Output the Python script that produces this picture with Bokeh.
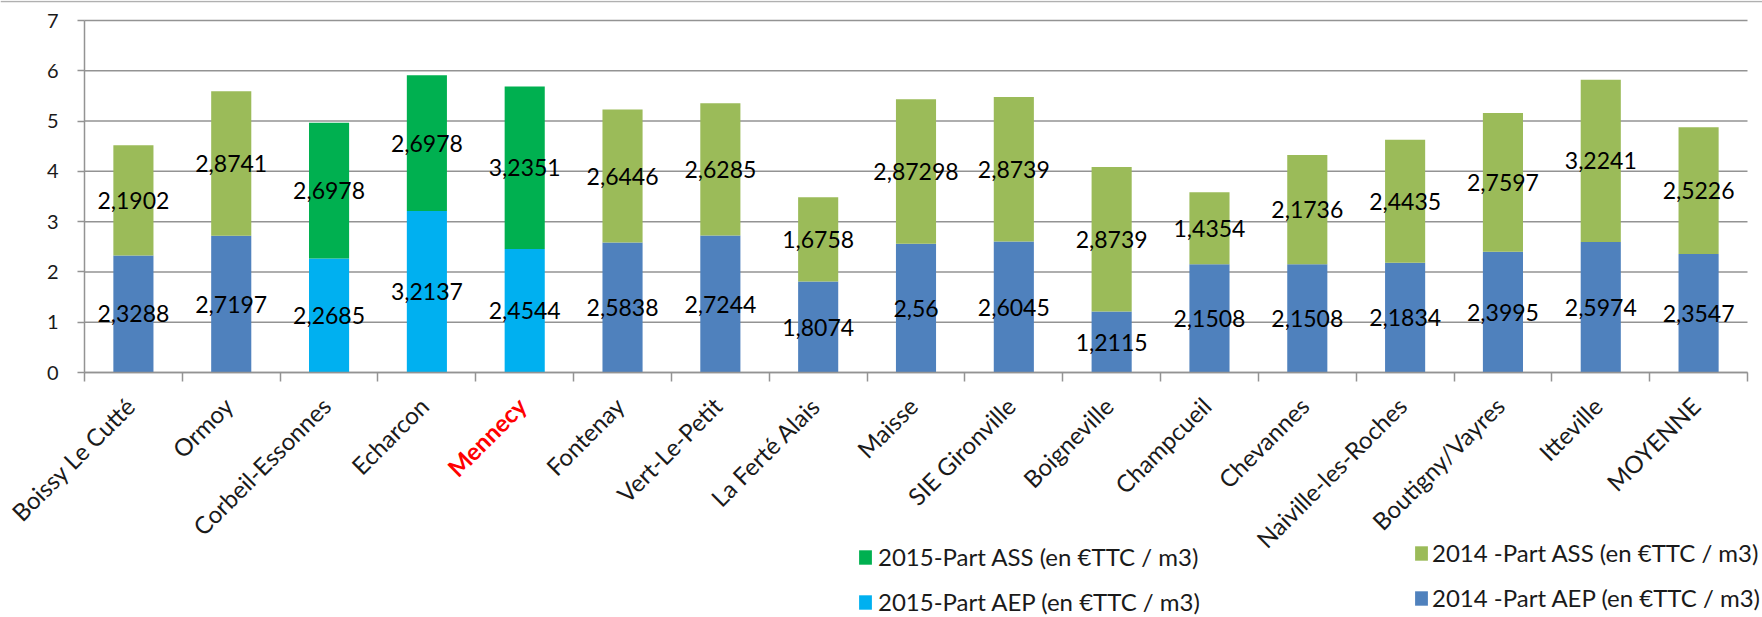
import math
from bokeh.plotting import figure
from bokeh.models import (ColumnDataSource, Range1d, FixedTicker, Legend,
                          LegendItem, LabelSet, Span)
from bokeh.core.properties import value
from bokeh.embed import file_html
from bokeh.resources import INLINE

# ---------------- data ----------------
communes = ["Boissy Le Cutté", "Ormoy", "Corbeil-Essonnes", "Echarcon", "Mennecy",
            "Fontenay", "Vert-Le-Petit", "La Ferté Alais", "Maisse", "SIE Gironville",
            "Boigneville", "Champcueil", "Chevannes", "Naiville-les-Roches",
            "Boutigny/Vayres", "Itteville", "MOYENNE"]
aep_2014 = [2.3288, 2.7197, 0, 0, 0, 2.5838, 2.7244, 1.8074, 2.56, 2.6045,
            1.2115, 2.1508, 2.1508, 2.1834, 2.3995, 2.5974, 2.3547]
ass_2014 = [2.1902, 2.8741, 0, 0, 0, 2.6446, 2.6285, 1.6758, 2.87298, 2.8739,
            2.8739, 1.4354, 2.1736, 2.4435, 2.7597, 3.2241, 2.5226]
aep_2015 = [0, 0, 2.2685, 3.2137, 2.4544, 0, 0, 0, 0, 0, 0, 0, 0, 0, 0, 0, 0]
ass_2015 = [0, 0, 2.6978, 2.6978, 3.2351, 0, 0, 0, 0, 0, 0, 0, 0, 0, 0, 0, 0]
y_ticks = [0, 1, 2, 3, 4, 5, 6, 7]
highlight = "Mennecy"
lab_ass_2015 = "2015-Part ASS (en €TTC / m3)"
lab_aep_2015 = "2015-Part AEP (en €TTC / m3)"
lab_ass_2014 = "2014 -Part ASS (en €TTC / m3)"
lab_aep_2014 = "2014 -Part AEP (en €TTC / m3)"

# ---------------- styles / layout ----------------
C_AEP14 = "#4F81BD"
C_ASS14 = "#9BBB59"
C_AEP15 = "#00B0F0"
C_ASS15 = "#00B050"
GRID = "#939393"
TXT = "#1a1a1a"
FONT = "Lato"

W, H = 1762, 615
AX_LEFT, AX_RIGHT = 84, 1747      # canvas x of plot-area left / right
TOP, ZERO_PX = 20, 372            # canvas y of top value / of value 0
BORDER_PX = 1                     # canvas y of the chart-area top border

n = len(communes)
xs = list(range(1, n + 1))
ppc = (AX_RIGHT - AX_LEFT) / n                     # px per category
ppu = (ZERO_PX - TOP) / (y_ticks[-1] - y_ticks[0])  # px per unit
x_start = 0.5 - AX_LEFT / ppc
x_end = n + 0.5 + (W - AX_RIGHT) / ppc
y_start = -(H - ZERO_PX) / ppu
y_end = y_ticks[-1] + TOP / ppu

src = ColumnDataSource(dict(x=xs, aep_2014=aep_2014, aep_2015=aep_2015,
                            ass_2014=ass_2014, ass_2015=ass_2015))

p = figure(width=W, height=H, output_backend="svg", toolbar_location=None,
           x_range=Range1d(x_start, x_end), y_range=Range1d(y_start, y_end))
p.min_border = 0
p.outline_line_color = None
p.background_fill_color = "white"
p.border_fill_color = "white"
p.xgrid.visible = False
p.ygrid.visible = False

# chart-area top border
p.add_layout(Span(location=y_end - BORDER_PX / ppu, dimension="width",
                  line_color="#b0b0b0", line_width=1.5))

# horizontal gridlines limited to the plot area
p.segment(x0=[0.5] * len(y_ticks), x1=[n + 0.5] * len(y_ticks), y0=y_ticks, y1=y_ticks,
          line_color=GRID, line_width=1.5)

rs = p.vbar_stack(["aep_2014", "aep_2015", "ass_2014", "ass_2015"], x="x", width=0.41,
                  source=src, fill_color=[C_AEP14, C_AEP15, C_ASS14, C_ASS15],
                  line_color=None)
r_aep14, r_aep15, r_ass14, r_ass15 = rs

# data labels at segment centres
lx, ly, lt = [], [], []
for i in range(n):
    a = aep_2014[i] + aep_2015[i]
    s = ass_2014[i] + ass_2015[i]
    va = aep_2014[i] if aep_2014[i] else aep_2015[i]
    vs = ass_2014[i] if ass_2014[i] else ass_2015[i]
    lx += [xs[i], xs[i]]
    ly += [a / 2, a + s / 2]
    lt += [str(va).replace(".", ","), str(vs).replace(".", ",")]
p.text(x="x", y="y", text="t", source=ColumnDataSource(dict(x=lx, y=ly, t=lt)),
       text_font=value(FONT), text_font_size=value("23px"), text_color="#000000",
       text_align="center", text_baseline="middle")

# y axis drawn at the left edge of the categories
ya = p.yaxis[0]
ya.fixed_location = 0.5
ya.ticker = FixedTicker(ticks=y_ticks)
ya.bounds = (y_ticks[0], y_ticks[-1])
ya.axis_line_color = GRID
ya.axis_line_width = 1.5
ya.major_tick_line_color = GRID
ya.major_tick_line_width = 1.5
ya.major_tick_out = 7
ya.major_tick_in = 0
ya.minor_tick_line_color = None
ya.major_label_standoff = 19
ya.major_label_text_font = FONT
ya.major_label_text_font_size = "20px"
ya.major_label_text_color = TXT

# x axis drawn at value 0, ticks at category boundaries
xa = p.xaxis[0]
bounds = [i + 0.5 for i in range(n + 1)]
xa.fixed_location = 0
xa.ticker = FixedTicker(ticks=bounds)
xa.bounds = (bounds[0], bounds[-1])
xa.axis_line_color = GRID
xa.axis_line_width = 1.5
xa.major_tick_line_color = GRID
xa.major_tick_line_width = 1.5
xa.major_tick_out = 9
xa.major_tick_in = 0
xa.minor_tick_line_color = None
xa.major_label_overrides = {b: "" for b in bounds}

# rotated category labels
norm_idx = [i for i in range(n) if communes[i] != highlight]
hi_idx = [i for i in range(n) if communes[i] == highlight]
for idx, col, style in ((norm_idx, TXT, "normal"), (hi_idx, "#FF0000", "bold")):
    ls = LabelSet(x="x", y="y", text="t",
                  source=ColumnDataSource(dict(x=[xs[i] for i in idx], y=[0] * len(idx),
                                               t=[communes[i] for i in idx])),
                  angle=math.pi / 4, x_offset=-3, y_offset=-29,
                  text_align="right", text_baseline="middle",
                  text_font=value(FONT), text_font_size=value("24px"),
                  text_color=col, text_font_style=style)
    p.add_layout(ls)

# legends (one per entry to place them freely)
def add_legend(label, rend, vx, vy, standoff):
    lg = Legend(items=[LegendItem(label=label, renderers=[rend])], location=(vx, vy),
                padding=0, margin=0, spacing=0, border_line_color=None,
                background_fill_alpha=0, glyph_width=16, glyph_height=18,
                label_height=18, label_standoff=standoff,
                label_text_font=FONT, label_text_font_size="24px",
                label_text_color=TXT)
    p.add_layout(lg)

add_legend(lab_ass_2015, r_ass15, 857, 44, 5)
add_legend(lab_aep_2015, r_aep15, 857, -1, 5)
add_legend(lab_ass_2014, r_ass14, 1413, 48, 3)
add_legend(lab_aep_2014, r_aep14, 1413, 3, 3)

open("out.html", "w").write(file_html(p, INLINE))
